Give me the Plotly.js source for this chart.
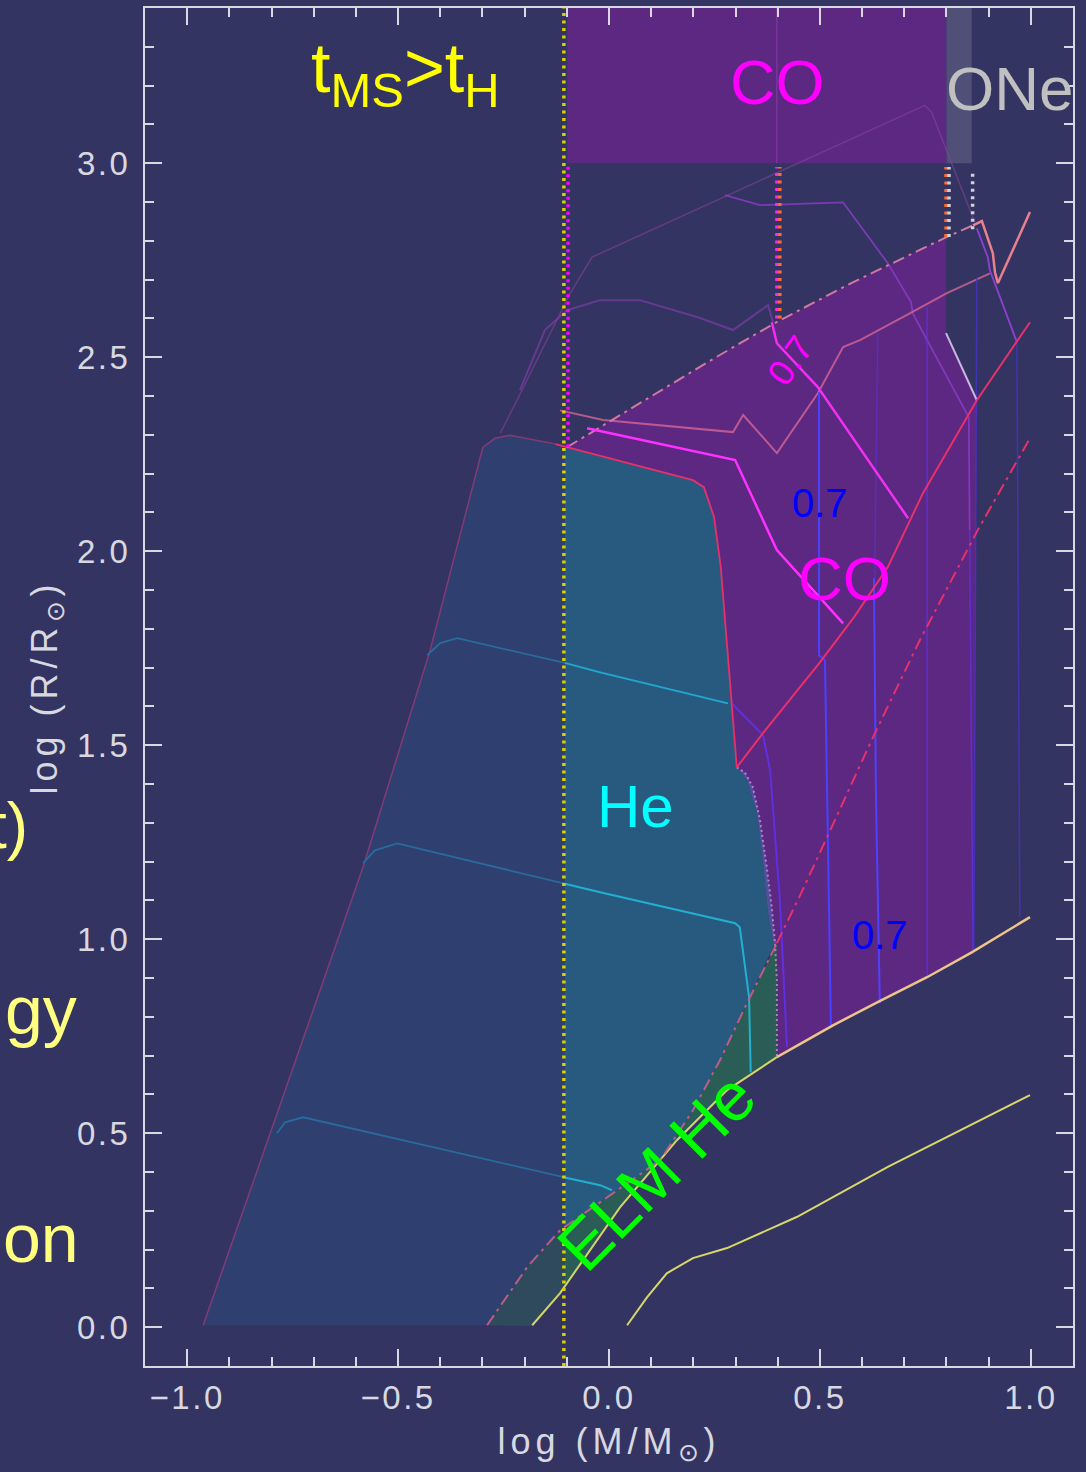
<!DOCTYPE html>
<html>
<head>
<meta charset="utf-8">
<script src="https://cdn.plot.ly/plotly-3.0.1.min.js"></script>
<style>
  html, body { margin: 0; padding: 0; background: #343463; }
  #chart { width: 1086px; height: 1472px; }
  /* wide-set axis lettering */
  #chart .xtick text, #chart .ytick text { letter-spacing: 2.5px; }
  #chart .xtitle, #chart .ytitle { letter-spacing: 5px; }
</style>
</head>
<body>
<div id="chart"></div>
<script>
// ---- Regions (log M, log R) ----
const lowMassX = [-0.962, -0.756, -0.583, -0.424, -0.299, -0.270, -0.235, -0.105, -0.105, -0.116, -0.194, -0.289];
const lowMassY = [0.005, 0.649, 1.186, 1.745, 2.268, 2.291, 2.299, 2.268, 0.260, 0.250, 0.155, 0.005];

const heX = [-0.105, 0.199, 0.225, 0.249, 0.265, 0.291, 0.303, 0.327, 0.351, 0.365, 0.377, 0.391, 0.327, 0.263, 0.199, 0.121, 0.009, -0.105];
const heY = [2.268, 2.183, 2.165, 2.088, 1.959, 1.616, 1.443, 1.410, 1.325, 1.196, 1.067, 0.985, 0.835, 0.688, 0.559, 0.430, 0.345, 0.260];

const elmX = [-0.105, 0.009, 0.121, 0.199, 0.263, 0.327, 0.398, 0.398, 0.280, 0.161, 0.026, -0.105];
const elmY = [0.260, 0.345, 0.430, 0.559, 0.688, 0.835, 0.990, 0.696, 0.611, 0.482, 0.309, 0.106];
const elmLowX = [-0.289, -0.194, -0.116, -0.105, -0.105, -0.116, -0.182];
const elmLowY = [0.005, 0.155, 0.250, 0.260, 0.106, 0.088, 0.003];

const stripX = [0.303, 0.327, 0.351, 0.365, 0.377, 0.391, 0.398, 0.393, 0.386, 0.374, 0.358, 0.341, 0.322];
const stripY = [1.443, 1.410, 1.325, 1.196, 1.067, 0.985, 0.990, 0.997, 1.082, 1.186, 1.307, 1.392, 1.430];

const coX = [-0.0995, 0.083, 0.249, 0.405, 0.578, 0.799, 0.799, 0.872, 0.865, 0.754, 0.637, 0.531, 0.398, 0.398, 0.393, 0.386, 0.374, 0.358, 0.341, 0.322, 0.303, 0.291, 0.265, 0.249, 0.225, 0.199];
const coY = [2.268, 2.389, 2.497, 2.595, 2.693, 2.809, 2.562, 2.389, 0.972, 0.902, 0.838, 0.778, 0.696, 0.894, 0.997, 1.082, 1.186, 1.307, 1.392, 1.430, 1.443, 1.616, 1.959, 2.088, 2.165, 2.183];

const coCapX = [-0.0995, 0.80, 0.80, -0.0995];
const coCapY = [3.0, 3.0, 3.4, 3.4];
const oneCapX = [0.80, 0.86, 0.86, 0.80];
const oneCapY = [3.0, 3.0, 3.4, 3.4];

// ---- Curves ----
const wdUpperX = [-0.182, -0.116, 0.026, 0.161, 0.280, 0.398];
const wdUpperY = [0.005, 0.088, 0.309, 0.482, 0.611, 0.696];
const wdUpper2X = [0.398, 0.531, 0.637, 0.754, 0.860, 0.998];
const wdUpper2Y = [0.696, 0.778, 0.838, 0.902, 0.966, 1.057];
const wdLowerX = [0.043, 0.090, 0.137, 0.199, 0.280, 0.358, 0.445, 0.661, 0.998];
const wdLowerY = [0.005, 0.077, 0.139, 0.178, 0.204, 0.242, 0.284, 0.413, 0.598];

const redArcX = [-0.127, 0.199, 0.225, 0.249, 0.265, 0.291, 0.303];
const redArcY = [2.276, 2.183, 2.165, 2.088, 1.959, 1.616, 1.443];
const redRiseX = [0.303, 0.365, 0.498, 0.581, 0.661, 0.744, 0.872, 0.998];
const redRiseY = [1.443, 1.531, 1.711, 1.830, 1.959, 2.149, 2.389, 2.590];

const dashLowX = [-0.289, -0.194, -0.116, 0.009, 0.121, 0.199, 0.263, 0.327, 0.398];
const dashLowY = [0.005, 0.155, 0.250, 0.345, 0.430, 0.559, 0.688, 0.835, 0.990];
const dashHighX = [0.398, 0.453, 0.528, 0.626, 0.737, 0.874, 0.998];
const dashHighY = [0.990, 1.113, 1.289, 1.521, 1.771, 2.054, 2.291];
const coTopX = [-0.0995, 0.083, 0.249, 0.405, 0.578, 0.799, 0.863];
const coTopY = [2.268, 2.389, 2.497, 2.595, 2.693, 2.809, 2.840];

const mag1X = [-0.052, 0.299, 0.398, 0.555];
const mag1Y = [2.317, 2.235, 2.003, 1.814];
const mag2X = [0.386, 0.398, 0.495, 0.709];
const mag2Y = [2.590, 2.536, 2.423, 2.085];

const mauveX = [-0.116, -0.014, 0.294, 0.318, 0.398, 0.495, 0.555, 0.595, 0.713, 0.801, 0.903];
const mauveY = [2.363, 2.338, 2.307, 2.351, 2.253, 2.407, 2.526, 2.544, 2.613, 2.665, 2.716];
const zigX = [0.863, 0.884, 0.910, 0.915, 0.922, 0.998];
const zigY = [2.840, 2.851, 2.768, 2.719, 2.691, 2.874];
const violetX = [0.872, 0.898, 0.903, 0.967];
const violetY = [2.832, 2.758, 2.724, 2.539];

const trackAX = [0.275, 0.358, 0.555, 0.661, 0.716, 0.720, 0.853, 0.855];
const trackAY = [2.918, 2.892, 2.899, 2.742, 2.642, 2.613, 2.345, 2.054];
const faintX = [-0.258, -0.218, -0.092, -0.040, 0.749, 0.765, 0.867];
const faintY = [2.304, 2.389, 2.665, 2.758, 3.149, 3.131, 2.848];
const arcX = [-0.211, -0.152, -0.0995, -0.021, 0.073, 0.216, 0.294, 0.377, 0.389];
const arcY = [2.415, 2.570, 2.621, 2.647, 2.647, 2.601, 2.570, 2.634, 2.590];

// cooling tracks (near-vertical)
const b1X = [0.498, 0.498, 0.512, 0.517, 0.526], b1Y = [2.410, 1.732, 1.719, 1.358, 0.778];
const b2X = [0.637, 0.630], b2Y = [2.562, 1.930];
const b3X = [0.628, 0.633, 0.642], b3Y = [1.930, 1.358, 0.835];
const b4X = [0.754, 0.754], b4Y = [2.629, 0.902];
const b5X = [0.872, 0.865], b5Y = [2.706, 0.972];
const b6X = [0.855, 0.863], b6Y = [2.054, 0.972];
const b7X = [0.967, 0.974], b7Y = [2.539, 1.057];
const b8X = [0.291, 0.365, 0.382, 0.405, 0.422], b8Y = [1.608, 1.526, 1.436, 1.101, 0.722];

// He-core tracks
const c1LX = [-0.431, -0.400, -0.360, -0.105], c1LY = [1.732, 1.763, 1.776, 1.712];
const c1RX = [-0.105, -0.021, 0.282], c1RY = [1.712, 1.688, 1.608];
const c2LX = [-0.583, -0.555, -0.502, -0.105], c2LY = [1.196, 1.229, 1.247, 1.143];
const c2RX = [-0.105, -0.021, 0.299, 0.310, 0.332, 0.336], c2RY = [1.143, 1.121, 1.041, 1.031, 0.851, 0.657];
const c3LX = [-0.787, -0.768, -0.725, -0.105], c3LY = [0.500, 0.528, 0.541, 0.386];
const c3RX = [-0.105, -0.021, 0.007], c3RY = [0.386, 0.366, 0.353];

const edgeX = [-0.962, -0.756, -0.583, -0.424, -0.299, -0.270, -0.235, -0.127];
const edgeY = [0.005, 0.649, 1.186, 1.745, 2.268, 2.291, 2.299, 2.276];
const greyX = [0.799, 0.872], greyY = [2.562, 2.389];
const dotBX = [0.303, 0.322, 0.341, 0.358, 0.374, 0.386, 0.393, 0.398, 0.398];
const dotBY = [1.443, 1.430, 1.392, 1.307, 1.186, 1.082, 0.997, 0.894, 0.696];

// transition markers (mass, radius span)
const tmsX = -0.107, tmsY = [-0.1, 3.4];
const heLimX = -0.097, heLimY = [2.268, 3.0];
const coLimX = [0.398, 0.405], coLimY = [2.60, 2.99];
const oneLimX = [0.799, 0.806], oneLimY = [2.81, 2.99];
const snLimX = 0.862, snLimY = [2.83, 2.98];
const capDivX = 0.398;

const FONT = 'Liberation Sans, Arial, sans-serif';
const traces = [];
function area(x, y, color) {
  traces.push({x: x, y: y, type: 'scatter', mode: 'lines', fill: 'toself',
    fillcolor: color, line: {width: 0}, hoverinfo: 'skip'});
}
function line(x, y, color, width, dash) {
  traces.push({x: x, y: y, type: 'scatter', mode: 'lines',
    line: {color: color, width: width, dash: dash || 'solid'}, hoverinfo: 'skip'});
}
function vline(x, y, color, width, dash) { line([x, x], y, color, width, dash); }

// filled regions
area(coX, coY, '#5c2882');
area(coCapX, coCapY, '#5c2882');
area(oneCapX, oneCapY, '#4f4f78');
area(lowMassX, lowMassY, '#2f3f70');
area(elmLowX, elmLowY, '#2e4a5c');
area(elmX, elmY, '#2a5d56');
area(heX, heY, '#285a80');
area(stripX, stripY, '#50509e');

// faint evolutionary tracks
vline(capDivX, [3.0, 3.4], 'rgba(160,70,190,0.55)', 1.2);
line(faintX, faintY, 'rgba(140,70,150,0.55)', 1.5);
line(arcX, arcY, 'rgba(120,60,160,0.75)', 2);
line(trackAX, trackAY, 'rgba(140,60,200,0.8)', 1.8);
line(mauveX, mauveY, 'rgba(215,100,150,0.8)', 2);
line(edgeX, edgeY, 'rgba(150,60,120,0.8)', 1.5);

// cooling tracks
line(b2X, b2Y, 'rgba(90,50,200,0.7)', 1.5);
line(b4X, b4Y, 'rgba(100,50,220,0.75)', 1.5);
line(b5X, b5Y, 'rgba(70,50,200,0.8)', 1.5);
line(b6X, b6Y, 'rgba(95,50,220,0.8)', 1.5);
line(b7X, b7Y, 'rgba(70,50,200,0.8)', 1.5);
line(b8X, b8Y, '#6030e0', 2);
line(b1X, b1Y, '#4a40ff', 2);
line(b3X, b3Y, '#5040ff', 2);
line(violetX, violetY, '#9040d0', 1.8);
line(greyX, greyY, '#c8b8e0', 2);

// He-core tracks
line(c1LX, c1LY, '#2a6a9c', 1.8);
line(c1RX, c1RY, '#22a8cc', 1.8);
line(c2LX, c2LY, '#2a6a9c', 1.8);
line(c2RX, c2RY, '#22b0d0', 2);
line(c3LX, c3LY, '#2a6a9c', 1.8);
line(c3RX, c3RY, '#22b0d0', 2);

// region boundaries
line(dotBX, dotBY, 'rgba(220,140,210,0.8)', 2, '2px,3px');
line(wdUpperX, wdUpperY, '#d4d46a', 2);
line(wdUpper2X, wdUpper2Y, '#eec48a', 2.5);
line(wdLowerX, wdLowerY, '#d8d86a', 2);
line(redArcX, redArcY, '#e8306a', 1.8);
line(redRiseX, redRiseY, '#e8306a', 2);
line(dashLowX, dashLowY, 'rgba(200,95,140,0.9)', 2, '12px,5px,3px,5px');
line(dashHighX, dashHighY, '#e8306a', 2, '12px,5px,3px,5px');
line(coTopX, coTopY, '#d07aa0', 2, '12px,5px,3px,5px');
line(zigX, zigY, '#e88090', 2.5);
line(mag1X, mag1Y, '#ff30ff', 2.5);
line(mag2X, mag2Y, '#f030f0', 2.5);

// transition markers
vline(tmsX, tmsY, '#d8d000', 3.5, '3px,4.5px');
vline(heLimX, heLimY, '#ff00ff', 3.5, '3px,4.5px');
vline(coLimX[0], coLimY, '#ff20ff', 3.5, '3px,4.5px');
vline(coLimX[1], coLimY, '#ff6a30', 3.5, '3px,4.5px');
vline(oneLimX[0], oneLimY, '#ff6a30', 3.5, '3px,4.5px');
vline(oneLimX[1], oneLimY, '#d0d0d8', 3.5, '3px,4.5px');
vline(snLimX, snLimY, '#d0d0d8', 3.5, '3px,4.5px');

const axisCol = '#d8d8e0';
const axisCommon = {
  showline: true, linecolor: axisCol, linewidth: 2, mirror: 'ticks',
  ticks: 'inside', ticklen: 17, tickwidth: 2, tickcolor: axisCol,
  minor: {dtick: 0.1, ticks: 'inside', ticklen: 9, tickwidth: 2, tickcolor: axisCol, showgrid: false},
  showgrid: false, zeroline: false, tickformat: '.1f',
  tickfont: {family: FONT, size: 33, color: axisCol}
};

const ann = (x, y, text, size, color, angle, xref, yref, xanchor) => ({
  x: x, y: y, xref: xref || 'x', yref: yref || 'y', text: text, showarrow: false,
  font: {family: FONT, size: size, color: color}, textangle: angle || 0,
  xanchor: xanchor || 'center', yanchor: 'middle'
});

const layout = {
  width: 1086, height: 1472,
  margin: {l: 145, r: 13, t: 8, b: 106},
  paper_bgcolor: '#343463', plot_bgcolor: '#343463',
  showlegend: false,
  xaxis: Object.assign({}, axisCommon, {
    range: [-1.1, 1.1], tick0: -1, dtick: 0.5, ticklabelstandoff: 1,
    title: {text: 'log (M/M<sub>⊙</sub>)', font: {family: FONT, size: 36, color: axisCol}, standoff: 14}
  }),
  yaxis: Object.assign({}, axisCommon, {
    range: [-0.1, 3.4], tick0: 0, dtick: 0.5, ticklabelstandoff: 6,
    title: {text: 'log (R/R<sub>⊙</sub>)', font: {family: FONT, size: 36, color: axisCol}, standoff: 16}
  }),
  annotations: [
    ann(-0.483, 3.232, 't<sub>MS</sub>&gt;t<sub>H</sub>', 70, '#ffff00'),
    ann(0.40, 3.209, 'CO', 63, '#ff00ff'),
    ann(0.950, 3.193, 'ONe', 62, '#c0c0c0'),
    ann(0.429, 2.492, '0.7', 36, '#ff00ff', -55),
    ann(0.50, 2.124, '0.7', 40, '#0000ff'),
    ann(0.559, 1.930, 'CO', 62, '#ff00ff'),
    ann(0.062, 1.343, 'He', 60, '#00ffff'),
    ann(0.642, 1.010, '0.7', 40, '#0000ff'),
    ann(0.112, 0.403, 'ELM He', 68, '#00ff00', -45),
    ann(-0.124, 0.398, 't)', 64, '#ffff80', 0, 'paper', 'paper', 'right'),
    ann(-0.071, 0.262, 'gy', 68, '#ffff80', 0, 'paper', 'paper', 'right'),
    ann(-0.069, 0.094, 'on', 68, '#ffff80', 0, 'paper', 'paper', 'right')
  ]
};

Plotly.newPlot('chart', traces, layout, {staticPlot: true, displayModeBar: false});
</script>
</body>
</html>
